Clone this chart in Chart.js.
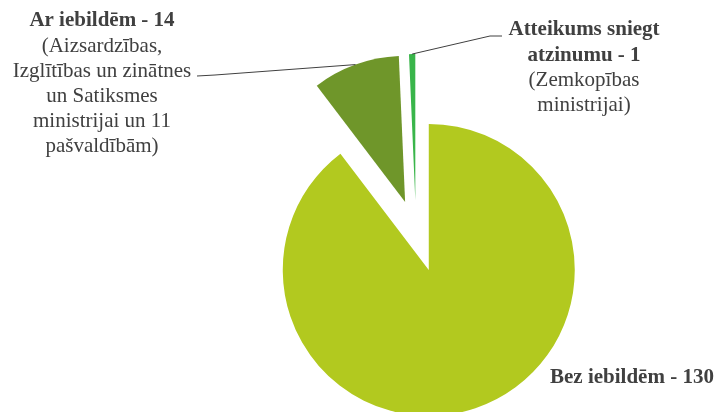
<!DOCTYPE html>
<html>
<head>
<meta charset="utf-8">
<title>Atzinumi</title>
<script src="https://cdn.jsdelivr.net/npm/chart.js"></script>
<style>
  html, body { margin: 0; padding: 0; background: #fff; }
  #wrap { position: relative; width: 717px; height: 412px; }
</style>
</head>
<body>
<div id="wrap"><canvas id="pie"></canvas></div>
<script>
var categories = ['Bez iebildēm', 'Ar iebildēm', 'Atteikums sniegt\natzinumu'];
var values = [130, 14, 1];
var notes = [
    [],
    ['(Aizsardzības,', 'Izglītības un zinātnes', 'un Satiksmes', 'ministrijai un 11', 'pašvaldībām)'],
    ['(Zemkopības', 'ministrijai)']
];

var colors = ['#b2c91f', '#6f962a', '#39b54a'];
var explode = [40, 32, 32];   // px each slice is pulled out
var lineH = 25.1;
var labelPos = [
    {x: 550, y: 378, align: 'left', leader: null},
    {x: 102, y: 21, align: 'center', leader: [[215, 75], [197, 76]]},
    {x: 584, y: 30, align: 'center', leader: [[490, 36], [502, 36]]}
];

// move slices out along their middle angle
var explodePlugin = {
    id: 'explode',
    afterDatasetsUpdate: function(chart) {
        var meta = chart.getDatasetMeta(0);
        meta.data.forEach(function(arc, i) {
            var mid = (arc.startAngle + arc.endAngle) / 2;
            arc.x += Math.cos(mid) * explode[i];
            arc.y += Math.sin(mid) * explode[i];
        });
    }
};

var labelPlugin = {
    id: 'pieLabels',
    afterDatasetsDraw: function(chart) {
        var ctx = chart.ctx;
        var meta = chart.getDatasetMeta(0);
        ctx.save();
        ctx.fillStyle = '#404040';
        ctx.strokeStyle = '#404040';
        ctx.lineWidth = 1;
        ctx.textBaseline = 'middle';
        meta.data.forEach(function(arc, i) {
            var p = labelPos[i];
            var y = p.y;
            ctx.textAlign = p.align;
            ctx.font = 'bold 21px "Liberation Serif"';
            (categories[i] + ' - ' + values[i]).split('\n').forEach(function(t) {
                ctx.fillText(t, p.x, y);
                y += lineH;
            });
            ctx.font = '21px "Liberation Serif"';
            notes[i].forEach(function(t) {
                ctx.fillText(t, p.x, y);
                y += lineH;
            });
            if (p.leader) {
                var mid = (arc.startAngle + arc.endAngle) / 2;
                var r = arc.outerRadius;
                ctx.beginPath();
                ctx.moveTo(arc.x + Math.cos(mid) * r, arc.y + Math.sin(mid) * r);
                p.leader.forEach(function(pt) { ctx.lineTo(pt[0], pt[1]); });
                ctx.stroke();
            }
        });
        ctx.restore();
    }
};

new Chart(document.getElementById('pie'), {
    type: 'pie',
    data: {
        labels: categories.map(function(c) { return c.replace('\n', ' '); }),
        datasets: [{
            data: values,
            backgroundColor: colors,
            borderWidth: 0,
            clip: false
        }]
    },
    options: {
        responsive: true,
        maintainAspectRatio: false,
        animation: false,
        events: [],
        radius: 146,
        layout: { padding: { left: 200, right: 85, top: 60, bottom: 8 } },
        plugins: {
            legend: { display: false },
            tooltip: { enabled: false }
        }
    },
    plugins: [explodePlugin, labelPlugin]
});
</script>
</body>
</html>
